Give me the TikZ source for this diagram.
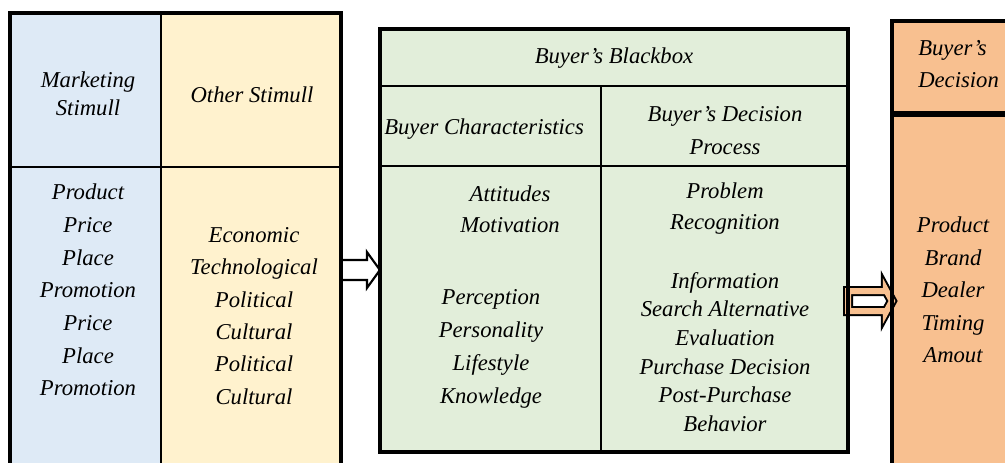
\documentclass[tikz,border=0pt]{standalone}
\usepackage{fontspec}
\setmainfont{Liberation Serif}
\usetikzlibrary{calc, fit, positioning}

\definecolor{mkblue}{RGB}{222,234,246}
\definecolor{othyellow}{RGB}{255,242,206}
\definecolor{bbgreen}{RGB}{226,238,218}
\definecolor{decorange}{RGB}{248,192,144}

\begin{document}
\begin{tikzpicture}[x=0.75pt, y=-0.75pt,
  cell/.style={draw, line width=1.6pt, inner sep=0pt, fill=#1},
  frame/.style={draw, line width=3.6pt},
  word/.style={font=\fontsize{17}{#1}\selectfont\itshape, align=center, inner sep=0pt},
  word/.default=24.5,
  fatarrow/.style 2 args={to path={($(\tikztostart)+(0,-10)$) -- ($(\tikztotarget)+(-#1,-10)$)
    -- ($(\tikztotarget)+(-#1,-#2)$) -- (\tikztotarget) -- ($(\tikztotarget)+(-#1,#2)$)
    -- ($(\tikztotarget)+(-#1,10)$) -- ($(\tikztostart)+(0,10)$) -- cycle}}
  ]
  \path[use as bounding box, clip] (0,0) rectangle (1005,462);

  % stimuli block
  \draw node[cell=mkblue, fit={(11,14) (161,167)}] (mkh) {}
    node[cell=othyellow, fit={(161,14) (340,167)}] (othh) {}
    node[cell=mkblue, fit={(11,167) (161,475)}] (mkb) {}
    node[cell=othyellow, fit={(161,167) (340,475)}] (othb) {};

  \draw node[word=21] at (88,94) {Marketing\\Stimull}
    node[word] at (252,95) {Other Stimull}
    node[word] at (88,290) {Product\\Price\\Place\\Promotion\\Price\\Place\\Promotion}
    node[word=24.3] at (254,316) {Economic\\Technological\\Political\\Cultural\\Political\\Cultural};

  % buyer's blackbox
  \draw node[cell=bbgreen, fit={(381,30) (847,86)}] (bb) {}
    node[cell=bbgreen, fit={(381,86) (601,166)}] (chh) {}
    node[cell=bbgreen, fit={(601,86) (847,166)}] (dph) {}
    node[cell=bbgreen, fit={(381,166) (601,451)}] (chb) {}
    node[cell=bbgreen, fit={(601,166) (847,451)}] (dpb) {};

  \draw node[word] at (bb) {Buyer’s Blackbox}
    node[word, anchor=west] at (384,129) {Buyer Characteristics}
    node[word=24.75] at (725,131) {Buyer’s Decision\\Process}
    node[word=23.25] at (510,209) {Attitudes\\Motivation}
    node[word=24.75] at (491,349) {Perception\\Personality\\Lifestyle\\Knowledge}
    node[word=23.25] at (725,209) {Problem\\Recognition}
    node[word=21.5] at (725,352) {Information\\Search Alternative\\Evaluation\\Purchase Decision\\Post-Purchase\\Behavior};

  % buyer's decision
  \draw node[cell=decorange, fit={(893,22) (1012,113)}] (dech) {}
    node[cell=decorange, fit={(893,113) (1012,475)}] (decb) {};

  \draw node[word=24, anchor=west, align=left] at (918,64) {Buyer’s\\Decision}
    node[word=24.4] at (953,290) {Product\\Brand\\Dealer\\Timing\\Amout};

  % arrows
  \coordinate (a1) at (0,270);
  \coordinate (a2) at (0,301);
  \draw[line width=1.6pt, fill=white, fatarrow={13}{18}] (othb.east |- a1) to (chb.west |- a1);
  \draw[line width=1.5pt, double=decorange, double distance=4.5pt, fill=white, fatarrow={6}{11}]
    (dpb.east |- a2) to (decb.west |- a2);

  % heavy outlines
  \draw[frame] (mkb.south west) -- (mkh.north west) -- (othh.north east) -- (othb.south east);
  \draw[frame] (bb.north west) rectangle (dpb.south east);
  \draw[frame] (decb.south west) -- (dech.north west) -- (dech.north east);
  \draw[line width=4.5pt] (dech.south west) -- (dech.south east);
\end{tikzpicture}
\end{document}
